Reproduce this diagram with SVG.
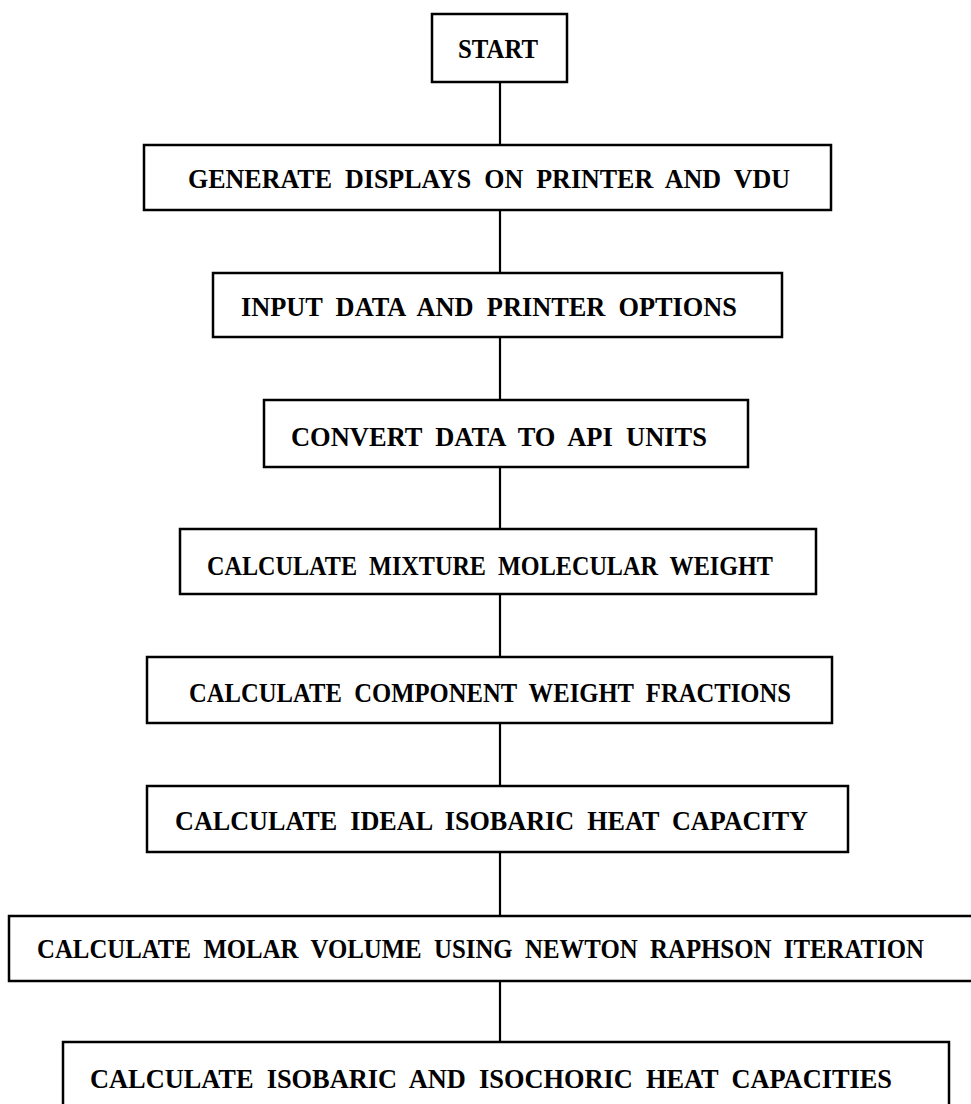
<svg xmlns="http://www.w3.org/2000/svg" width="971" height="1104" viewBox="0 0 971 1104">
<style>
.box{fill:#fff;stroke:#000;stroke-width:2.5}
.t{font-family:"Liberation Serif",serif;font-weight:bold;font-size:28px;fill:#000;white-space:pre}
.c{stroke:#000;stroke-width:2.2;fill:none}
</style>
<rect x="0" y="0" width="971" height="1104" fill="#fff"/>
<g id="connectors">
<line class="c" x1="500" y1="82" x2="500" y2="145"/>
<line class="c" x1="500" y1="210" x2="500" y2="273"/>
<line class="c" x1="500" y1="337" x2="500" y2="400"/>
<line class="c" x1="500" y1="467" x2="500" y2="529"/>
<line class="c" x1="500" y1="594" x2="500" y2="657"/>
<line class="c" x1="500" y1="723" x2="500" y2="786"/>
<line class="c" x1="500" y1="852" x2="500" y2="916"/>
<line class="c" x1="500" y1="981" x2="500" y2="1042"/>
</g>
<g id="start">
<rect class="box" x="432" y="14" width="135" height="68"/>
<text class="t" x="458" y="58" textLength="80" lengthAdjust="spacingAndGlyphs">START</text>
</g>
<g id="generate">
<rect class="box" x="144" y="145" width="687" height="65"/>
<text class="t" x="188" y="188" textLength="602" lengthAdjust="spacingAndGlyphs" xml:space="preserve">GENERATE  DISPLAYS  ON  PRINTER  AND  VDU</text>
</g>
<g id="input">
<rect class="box" x="213" y="273" width="569" height="64"/>
<text class="t" x="241" y="316" textLength="496" lengthAdjust="spacingAndGlyphs" xml:space="preserve">INPUT  DATA  AND  PRINTER  OPTIONS</text>
</g>
<g id="convert">
<rect class="box" x="264" y="400" width="484" height="67"/>
<text class="t" x="291" y="446" textLength="416" lengthAdjust="spacingAndGlyphs" xml:space="preserve">CONVERT  DATA  TO  API  UNITS</text>
</g>
<g id="molweight">
<rect class="box" x="180" y="529" width="636" height="65"/>
<text class="t" x="207" y="575" textLength="566" lengthAdjust="spacingAndGlyphs" xml:space="preserve">CALCULATE  MIXTURE  MOLECULAR  WEIGHT</text>
</g>
<g id="fractions">
<rect class="box" x="147" y="657" width="685" height="66"/>
<text class="t" x="189" y="702" textLength="602" lengthAdjust="spacingAndGlyphs" xml:space="preserve">CALCULATE  COMPONENT  WEIGHT  FRACTIONS</text>
</g>
<g id="ideal">
<rect class="box" x="147" y="786" width="701" height="66"/>
<text class="t" x="175" y="830" textLength="633" lengthAdjust="spacingAndGlyphs" xml:space="preserve">CALCULATE  IDEAL  ISOBARIC  HEAT  CAPACITY</text>
</g>
<g id="molar">
<rect class="box" x="9" y="916" width="970" height="65"/>
<text class="t" x="37" y="958" textLength="887" lengthAdjust="spacingAndGlyphs" xml:space="preserve">CALCULATE  MOLAR  VOLUME  USING  NEWTON  RAPHSON  ITERATION</text>
</g>
<g id="heatcap">
<rect class="box" x="63" y="1042" width="886" height="80"/>
<text class="t" x="90" y="1088" textLength="802" lengthAdjust="spacingAndGlyphs" xml:space="preserve">CALCULATE  ISOBARIC  AND  ISOCHORIC  HEAT  CAPACITIES</text>
</g>
</svg>
